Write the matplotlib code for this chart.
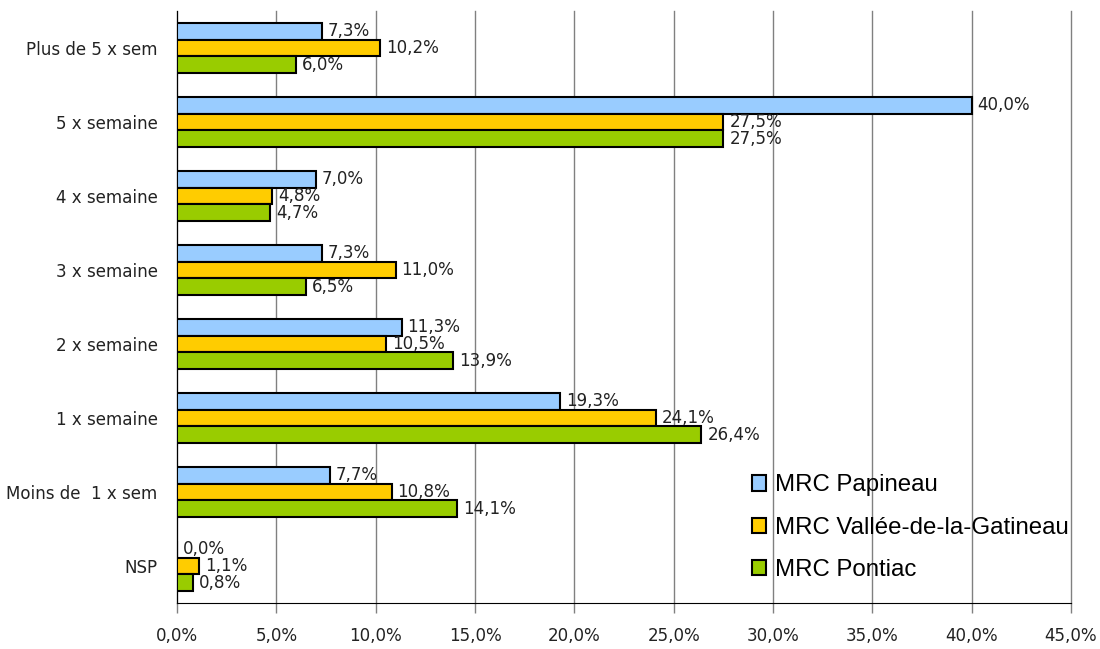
import numpy as np
import matplotlib
matplotlib.use("Agg")
import matplotlib.pyplot as plt
from matplotlib.patches import Patch
from matplotlib.ticker import FuncFormatter

# Fréquence par catégorie, en % pour chaque MRC
categories = ["Plus de 5 x sem", "5 x semaine", "4 x semaine", "3 x semaine",
              "2 x semaine", "1 x semaine", "Moins de  1 x sem", "NSP"]
papineau = [7.3, 40.0, 7.0, 7.3, 11.3, 19.3, 7.7, 0.0]
vallee = [10.2, 27.5, 4.8, 11.0, 10.5, 24.1, 10.8, 1.1]
pontiac = [6.0, 27.5, 4.7, 6.5, 13.9, 26.4, 14.1, 0.8]
series_noms = ["MRC Papineau", "MRC Vallée-de-la-Gatineau", "MRC Pontiac"]
couleurs = ["#99CCFF", "#FFCC00", "#99CC00"]

police_legende = ["Liberation Sans", "DejaVu Sans"]
etroit = dict(family="DejaVu Sans", stretch="condensed", size=13.3, color="#222222")


def fmt_pct(v):
    return f"{v:.1f}%".replace(".", ",")


fig = plt.figure(figsize=(11, 6.49), dpi=100)
ax = fig.add_axes([0.161, 0.071, 0.8126, 0.912])

y = np.arange(len(categories))
h = 0.225
for k, (vals, nom, c) in enumerate(zip([papineau, vallee, pontiac], series_noms, couleurs)):
    pos = y + (k - 1) * h
    ax.barh(pos, vals, height=h, color=c, edgecolor="black", linewidth=1.5, label=nom, zorder=3)
    for p, v in zip(pos, vals):
        ax.text(v + 0.3, p, fmt_pct(v), ha="left", va="center", zorder=4, **etroit)

ax.set_xlim(0, 45)
ax.set_ylim(len(categories) - 0.5, -0.5)
ax.set_xticks(np.arange(0, 46, 5))
ax.xaxis.set_major_formatter(FuncFormatter(lambda v, _: fmt_pct(v)))
ax.set_yticks(y)
ax.set_yticklabels(categories)

for lbl in ax.get_xticklabels() + ax.get_yticklabels():
    lbl.set_family(etroit["family"])
    lbl.set_stretch(etroit["stretch"])
    lbl.set_fontsize(etroit["size"])
    lbl.set_color(etroit["color"])

ax.tick_params(axis="x", direction="out", length=7, width=1, color="#808080", pad=10)
ax.tick_params(axis="y", length=0, pad=14)

# Grille verticale seulement
ax.grid(axis="x", color="#808080", linewidth=1, zorder=0)
for ligne in ax.get_xgridlines():
    ligne.set_clip_on(False)
ax.set_axisbelow(True)
ax.spines["top"].set_visible(False)
ax.spines["right"].set_visible(False)
ax.spines["left"].set_color("black")
ax.spines["bottom"].set_color("black")

handles = [Patch(facecolor=c, edgecolor="black", linewidth=1.5) for c in couleurs]
leg = ax.legend(handles, series_noms, loc="lower left", bbox_to_anchor=(0.619, 0.0),
                frameon=False, prop={"family": police_legende, "size": 17.3},
                handlelength=0.6, handleheight=0.6, handletextpad=0.35, labelspacing=0.85)

fig.savefig("out.png", dpi=100, facecolor="white")
